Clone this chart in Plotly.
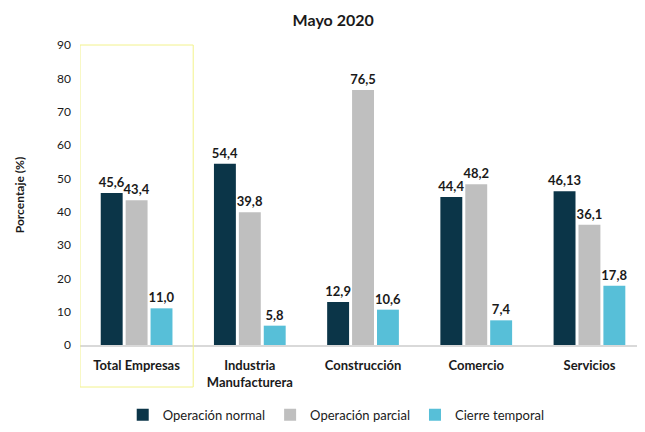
import plotly.graph_objects as go

categorias = ['Total Empresas', 'Industria<br>Manufacturera', 'Construcción', 'Comercio', 'Servicios']

normal = [45.6, 54.4, 12.9, 44.4, 46.13]
parcial = [43.4, 39.8, 76.5, 48.2, 36.1]
cierre = [11.0, 5.8, 10.6, 7.4, 17.8]

normal_txt = ['45,6', '54,4', '12,9', '44,4', '46,13']
parcial_txt = ['43,4', '39,8', '76,5', '48,2', '36,1']
cierre_txt = ['11,0', '5,8', '10,6', '7,4', '17,8']

fuente = 'Lato'

fig = go.Figure()

fig.add_trace(go.Bar(x=categorias, y=normal, name='Operación normal', marker_color='#0B3548',
                     text=normal_txt, textposition='outside'))
fig.add_trace(go.Bar(x=categorias, y=parcial, name='Operación parcial', marker_color='#BFBFBF',
                     text=parcial_txt, textposition='outside'))
fig.add_trace(go.Bar(x=categorias, y=cierre, name='Cierre temporal', marker_color='#57BFD8',
                     text=cierre_txt, textposition='outside'))

fig.update_traces(textfont=dict(family=fuente, size=13, color='#1a1a1a', weight='bold'),
                  cliponaxis=False, marker_line_width=0)

# recuadro amarillo alrededor de Total Empresas
fig.add_shape(type='rect', xref='x', yref='paper', x0=-0.5, x1=0.5, y0=-0.14, y1=1.0,
              line=dict(color='#F2F28C', width=1), fillcolor='rgba(0,0,0,0)')

# la página añade 8px de margen, por eso 629x416
fig.update_layout(
    width=629, height=416,
    paper_bgcolor='white', plot_bgcolor='white',
    margin=dict(l=72, r=0, t=37, b=79),
    font=dict(family=fuente, color='#1a1a1a'),
    title=dict(text='<b>Mayo 2020</b>', x=0.517, xanchor='center', y=0.971, yanchor='middle',
               font=dict(size=16, family=fuente)),
    barmode='group', bargap=0.34, bargroupgap=0.12,
    uniformtext=dict(mode='show', minsize=13),
    xaxis=dict(showgrid=False, showline=True, linecolor='#D9D9D9', linewidth=1.5,
               ticks='', tickfont=dict(size=13, family=fuente, weight='bold'),
               ticklabelstandoff=8, range=[-0.5, 4.42], automargin=False),
    yaxis=dict(range=[0, 90], dtick=10, showgrid=False, showline=False, zeroline=False,
               tickfont=dict(size=12, family=fuente), ticklabelstandoff=8, automargin=False,
               title=dict(text='<b>Porcentaje (%)</b>', font=dict(size=12, family=fuente), standoff=29)),
    legend=dict(orientation='h', x=0.46, xanchor='center', yref='container', y=0.022, yanchor='middle',
                font=dict(size=13, family=fuente), itemwidth=30, traceorder='normal'),
)

fig.write_html('out.html')
